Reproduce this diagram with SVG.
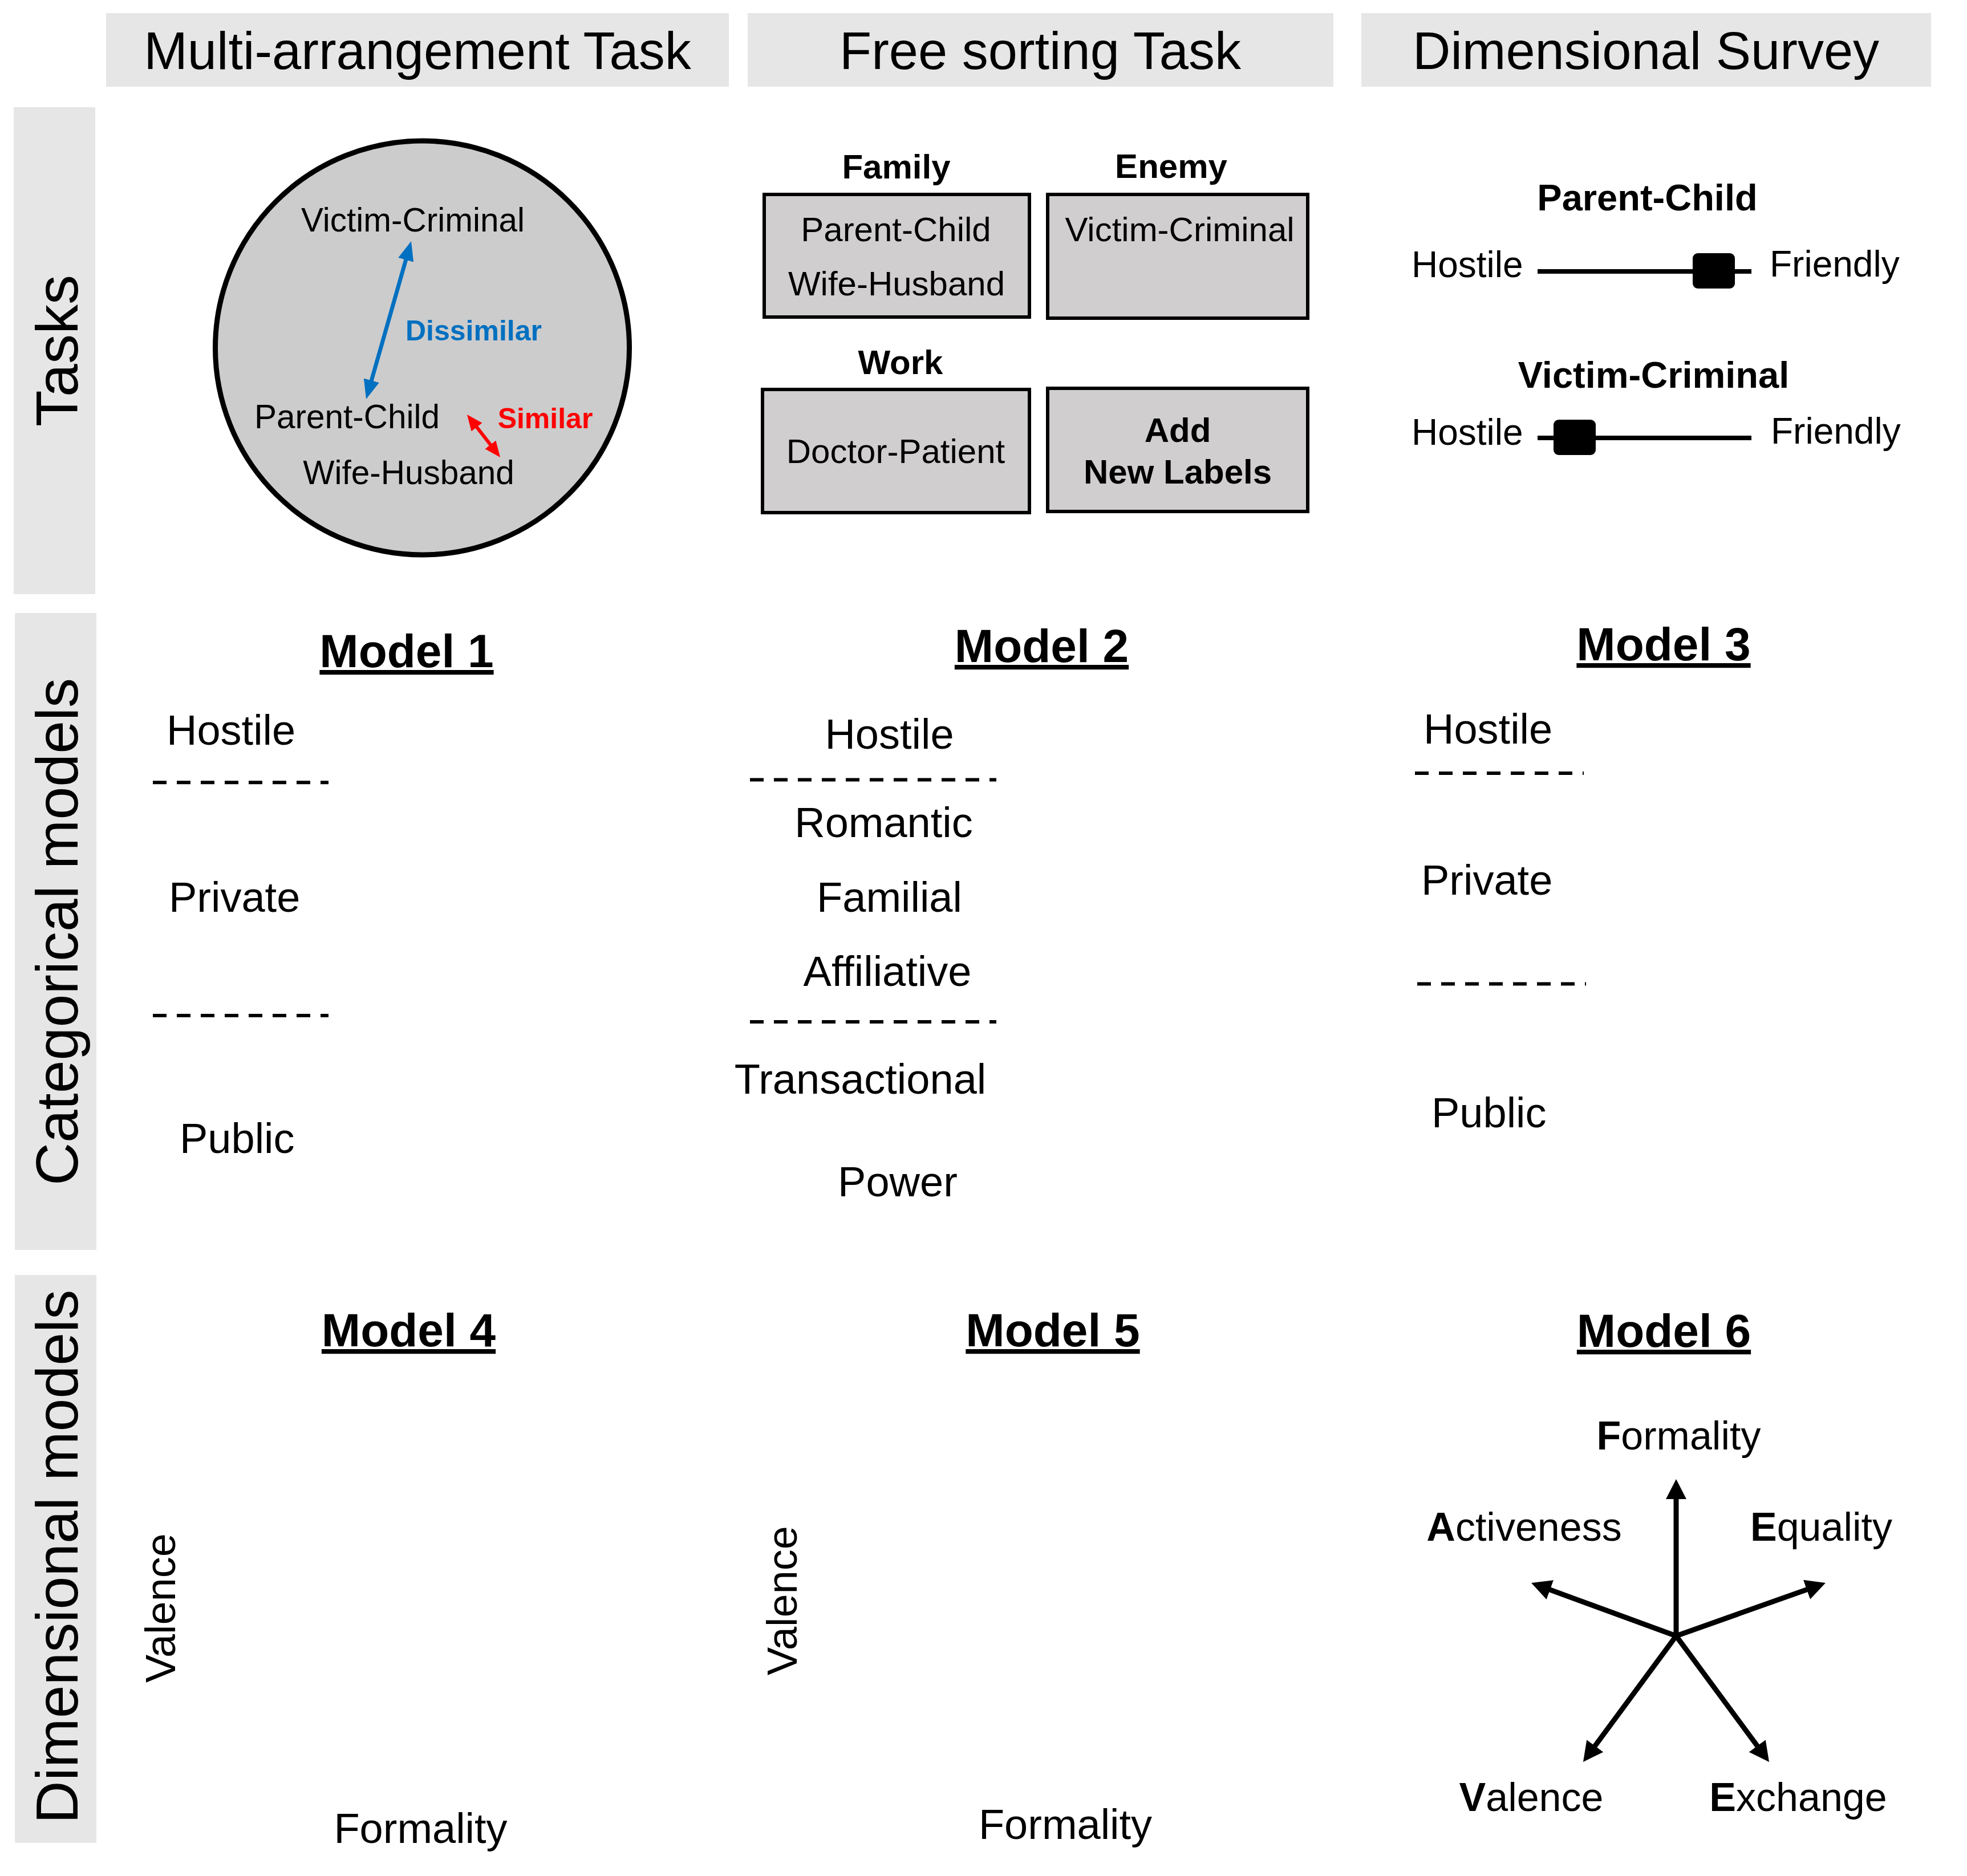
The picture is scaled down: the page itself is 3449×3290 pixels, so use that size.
<svg xmlns="http://www.w3.org/2000/svg" width="3449" height="3290" viewBox="0 0 3449 3290">
<style>
text{font-family:"Liberation Sans",Arial,sans-serif;fill:#000}
.hdr{font-size:92px;text-anchor:middle}
.side{font-size:104px;text-anchor:middle}
.hbox{fill:#e6e6e6}
.ct{font-size:58.5px;text-anchor:middle}
.bt{font-size:60px;text-anchor:middle}
.bb{font-size:60px;text-anchor:middle;font-weight:bold}
.sbox{fill:#d0cece;stroke:#000;stroke-width:6}
.sv{font-size:64px}
.svb{font-size:65px;font-weight:bold;text-anchor:middle}
.title{font-size:82px;font-weight:bold;text-anchor:middle;text-decoration:underline}
.cat{font-size:74px}
.catm{font-size:74px;text-anchor:middle}
.dash{stroke:#000;stroke-width:6;stroke-dasharray:24 18;fill:none}
.m6{font-size:70px;text-anchor:middle}
.b{font-weight:bold}
.slider{stroke:#000;stroke-width:8}
</style>
<defs>
<marker id="ahBlue" markerUnits="userSpaceOnUse" markerWidth="34" markerHeight="28" viewBox="0 0 34 28" refX="10" refY="14" orient="auto-start-reverse"><path d="M0,0 L34,14 L0,28 z" fill="#0070c0"/></marker>
<marker id="ahRed" markerUnits="userSpaceOnUse" markerWidth="28" markerHeight="24" viewBox="0 0 28 24" refX="8" refY="12" orient="auto-start-reverse"><path d="M0,0 L28,12 L0,24 z" fill="#ff0000"/></marker>
<marker id="ahBlack" markerUnits="userSpaceOnUse" markerWidth="35" markerHeight="36" viewBox="0 0 35 36" refX="10" refY="18" orient="auto-start-reverse"><path d="M0,0 L35,18 L0,36 z" fill="#000"/></marker>
</defs>
<rect width="3449" height="3290" fill="#fff"/>

<g id="header-multi"><rect class="hbox" x="186" y="23" width="1092" height="129"/><text class="hdr" x="732" y="121">Multi-arrangement Task</text></g>
<g id="header-free"><rect class="hbox" x="1311" y="23" width="1027" height="129"/><text class="hdr" x="1824" y="121">Free sorting Task</text></g>
<g id="header-survey"><rect class="hbox" x="2387" y="23" width="999" height="129"/><text class="hdr" x="2886" y="121">Dimensional Survey</text></g>

<g id="side-tasks"><rect class="hbox" x="24" y="188" width="143" height="854"/><text class="side" transform="translate(136,615) rotate(-90)">Tasks</text></g>
<g id="side-categorical"><rect class="hbox" x="26" y="1075" width="143" height="1117"/><text class="side" transform="translate(136,1634) rotate(-90)">Categorical models</text></g>
<g id="side-dimensional"><rect class="hbox" x="26" y="2236" width="143" height="996"/><text class="side" transform="translate(136,2730) rotate(-90)">Dimensional models</text></g>

<g id="multi-arrangement">
<circle cx="740.5" cy="610" r="363" fill="#cccccc" stroke="#000" stroke-width="9"/>
<text class="ct" x="724" y="406">Victim-Criminal</text>
<text class="ct" x="608.5" y="751">Parent-Child</text>
<text class="ct" x="716.5" y="849">Wife-Husband</text>
<text x="830.5" y="597" font-size="50" font-weight="bold" text-anchor="middle" style="fill:#0070c0">Dissimilar</text>
<text x="956" y="751" font-size="50" font-weight="bold" text-anchor="middle" style="fill:#ff0000">Similar</text>
</g>

<g id="sort-family"><text class="bb" x="1571.5" y="313">Family</text><rect class="sbox" x="1340" y="341" width="465" height="215"/><text class="bt" x="1571" y="423">Parent-Child</text><text class="bt" x="1572" y="518">Wife-Husband</text></g>
<g id="sort-enemy"><text class="bb" x="2053.5" y="312">Enemy</text><rect class="sbox" x="1837" y="341" width="456" height="217"/><text class="bt" x="2068.5" y="423">Victim-Criminal</text></g>
<g id="sort-work"><text class="bb" x="1579" y="656">Work</text><rect class="sbox" x="1337" y="683" width="468" height="216"/><text class="bt" x="1570.5" y="812">Doctor-Patient</text></g>
<g id="sort-add"><rect class="sbox" x="1837" y="681" width="456" height="216"/><text class="bb" x="2065" y="775">Add</text><text class="bb" x="2065" y="848">New Labels</text></g>

<g id="survey-parent-child">
<text class="svb" x="2888.5" y="369">Parent-Child</text>
<text class="sv" x="2475" y="486">Hostile</text>
<text class="sv" x="3103" y="485">Friendly</text>
<line class="slider" x1="2696" y1="476" x2="3071" y2="476"/>
<rect x="2968" y="444" width="74" height="62" rx="9"/>
</g>
<g id="survey-victim-criminal">
<text class="svb" x="2899.5" y="680">Victim-Criminal</text>
<text class="sv" x="2475" y="780">Hostile</text>
<text class="sv" x="3105" y="778">Friendly</text>
<line class="slider" x1="2696" y1="768" x2="3071" y2="768"/>
<rect x="2724" y="736" width="74" height="62" rx="9"/>
</g>

<g id="model1">
<text class="title" x="713" y="1170">Model 1</text>
<text class="cat" x="292" y="1306">Hostile</text>
<line class="dash" x1="268" y1="1372.3" x2="576" y2="1372.3"/>
<text class="cat" x="296" y="1599">Private</text>
<line class="dash" x1="268" y1="1781" x2="576" y2="1781"/>
<text class="cat" x="315" y="2022">Public</text>
</g>
<g id="model2">
<text class="title" x="1826.5" y="1161">Model 2</text>
<text class="catm" x="1559.5" y="1313">Hostile</text>
<line class="dash" x1="1315" y1="1367.5" x2="1747" y2="1367.5"/>
<text class="catm" x="1549.5" y="1468">Romantic</text>
<text class="catm" x="1559.5" y="1599">Familial</text>
<text class="catm" x="1556" y="1729">Affiliative</text>
<line class="dash" x1="1315" y1="1792" x2="1747" y2="1792"/>
<text class="catm" x="1508.5" y="1918">Transactional</text>
<text class="catm" x="1574" y="2098">Power</text>
</g>
<g id="model3">
<text class="title" x="2917" y="1158">Model 3</text>
<text class="cat" x="2496" y="1304">Hostile</text>
<line class="dash" x1="2481" y1="1356" x2="2777" y2="1356"/>
<text class="cat" x="2492" y="1569">Private</text>
<line class="dash" x1="2485" y1="1725.5" x2="2781" y2="1725.5"/>
<text class="cat" x="2510" y="1977">Public</text>
</g>

<g id="model4">
<text class="title" x="716.5" y="2361">Model 4</text>
<text class="catm" transform="translate(307,2820) rotate(-90)">Valence</text>
<text class="catm" x="737.5" y="3232">Formality</text>
</g>
<g id="model5">
<text class="title" x="1846" y="2361">Model 5</text>
<text class="catm" transform="translate(1397,2807) rotate(-90)">Valence</text>
<text class="catm" x="1868" y="3225">Formality</text>
</g>
<g id="model6">
<text class="title" x="2917.5" y="2362">Model 6</text>
<text class="m6" x="2943.5" y="2542"><tspan class="b">F</tspan>ormality</text>
<text class="m6" x="2672.5" y="2702"><tspan class="b">A</tspan>ctiveness</text>
<text class="m6" x="3193.5" y="2702"><tspan class="b">E</tspan>quality</text>
<text class="m6" x="2685" y="3176"><tspan class="b">V</tspan>alence</text>
<text class="m6" x="3153" y="3176"><tspan class="b">E</tspan>xchange</text>
</g>

<g id="connectors" fill="none" stroke-linecap="round">
<line x1="714.4" y1="446.1" x2="648.6" y2="676.9" stroke="#0070c0" stroke-width="7" marker-start="url(#ahBlue)" marker-end="url(#ahBlue)"/>
<line x1="831.2" y1="742.8" x2="864.8" y2="786.2" stroke="#ff0000" stroke-width="6" marker-start="url(#ahRed)" marker-end="url(#ahRed)"/>
<g stroke="#000" stroke-width="9" marker-end="url(#ahBlack)">
<line x1="2939" y1="2869" x2="2939" y2="2619"/>
<line x1="2939" y1="2869" x2="2708.5" y2="2784.6"/>
<line x1="2939" y1="2869" x2="3177.4" y2="2784.4"/>
<line x1="2939" y1="2869" x2="2790.8" y2="3069.9"/>
<line x1="2939" y1="2869" x2="3087.2" y2="3069.9"/>
</g>
</g>
</svg>
